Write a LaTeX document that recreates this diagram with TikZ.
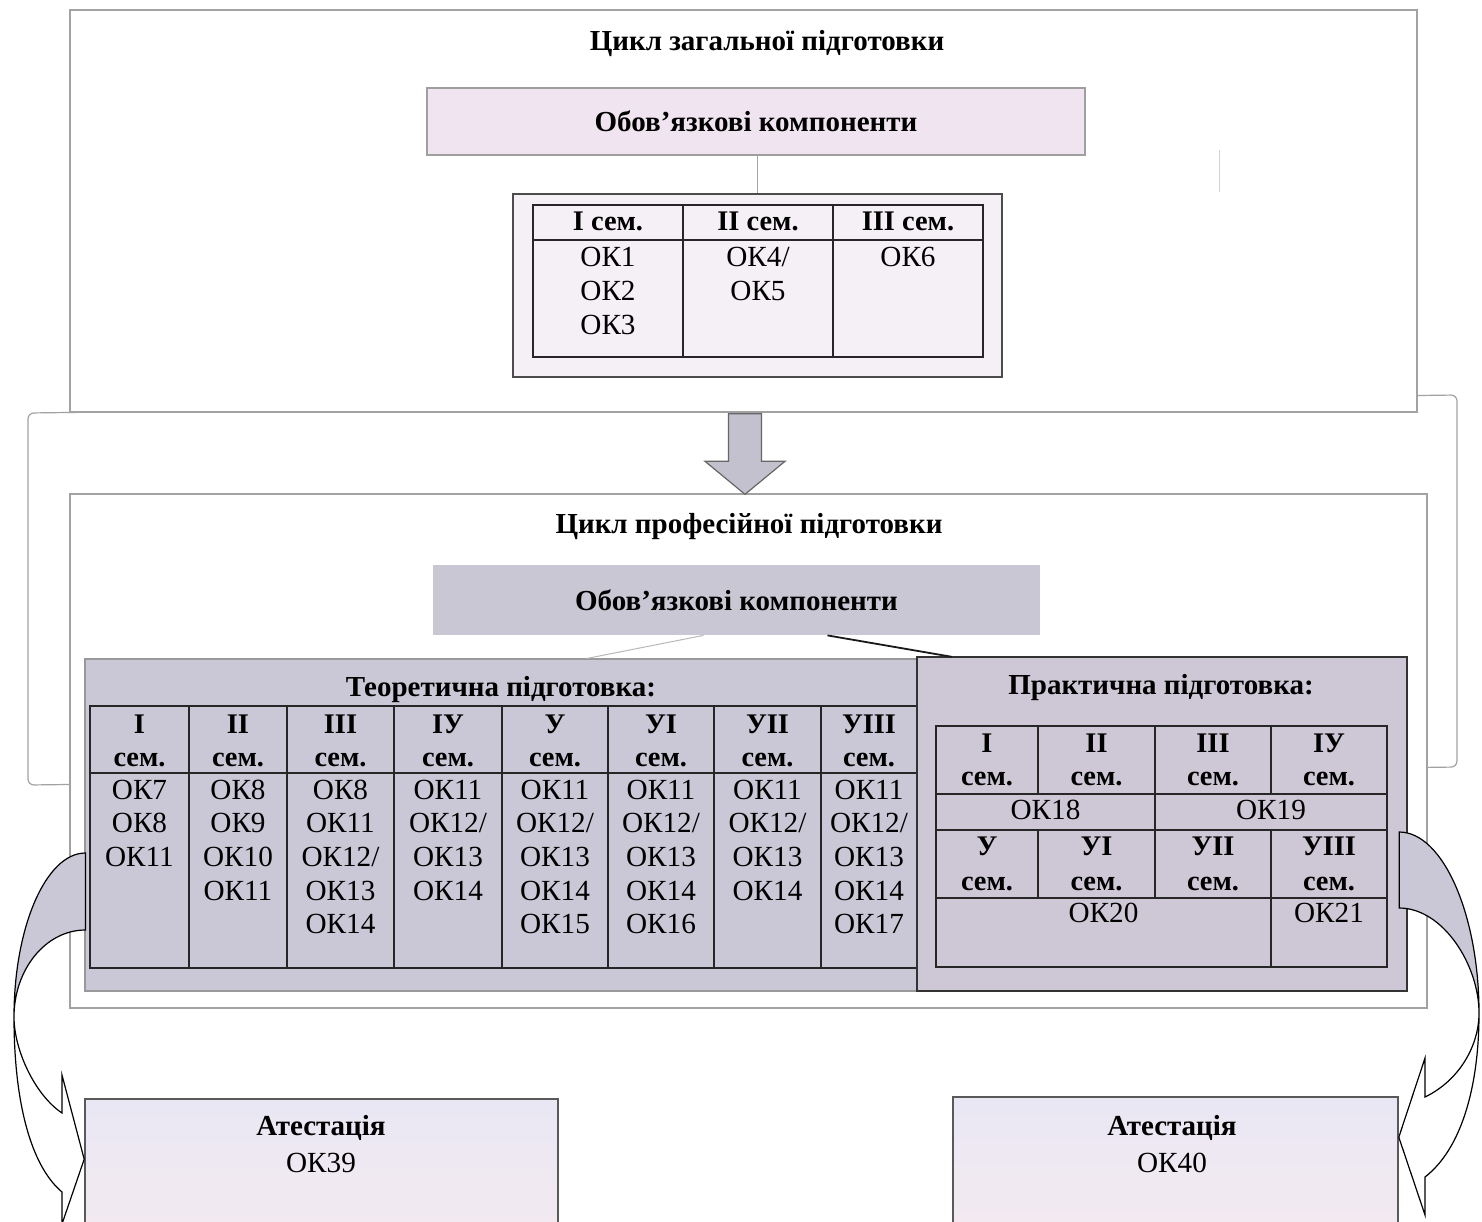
\documentclass[tikz,border=0pt]{standalone}
\usepackage{fontspec}
\setmainfont{Liberation Serif}
\usetikzlibrary{calc}
\definecolor{framegray}{HTML}{A2A2A2}
\definecolor{lav}{HTML}{CAC8D6}
\definecolor{lavp}{HTML}{CEC8D6}
\definecolor{obgray}{HTML}{C9C7D4}
\definecolor{pinkl}{HTML}{EFE4EF}
\definecolor{tabfill}{HTML}{F5EFF6}
\definecolor{arrowfill}{HTML}{C3C1CD}
\definecolor{attA}{HTML}{E9E7F4}
\definecolor{attB}{HTML}{F4EAF0}
\begin{document}
\begin{tikzpicture}[x=0.5pt,y=-0.5pt,
  frm/.style={draw=framegray, line width=0.7pt, fill=white},
  ttl/.style={font=\fontsize{14.5}{17}\selectfont\bfseries, inner sep=0pt},
  hd/.style={font=\fontsize{14.2}{17}\selectfont\bfseries, inner sep=0pt, text height=0.7em, text depth=0pt},
  dat/.style={font=\fontsize{14.6}{17}\selectfont, inner sep=0pt, text height=0.7em, text depth=0pt},
  tline/.style={draw=black!85, line width=0.9pt},
  carrow/.style={draw=black, line width=0.6pt, line join=miter},
  attbox/.style={draw=black!65, line width=0.8pt, top color=attA, bottom color=attB, middle color=attB!60!attA},
]
\useasboundingbox (0,0) rectangle (1482,1221);
\clip (0,0) rectangle (1482,1221);
\fill[white] (0,0) rectangle (1482,1221);

% background frame behind the two cycles
\draw[framegray, line width=0.6pt, rounded corners=3pt] (28,785) -- (28,413) -- (1457,395) -- (1457,767) -- cycle;

% ---- general cycle ----
\node[frm, minimum width=673.5pt, minimum height=201pt] (box1) at (743.5,211) {};
\node[ttl] (t1) at (767,44) {Цикл загальної підготовки};
\node[ttl, draw=gray!75, line width=0.8pt, fill=pinkl, minimum width=329pt, minimum height=33.5pt] (ob1) at (756,121.5) {Обов’язкові компоненти};
\node[draw=black!70, line width=0.8pt, fill=tabfill, minimum width=244.5pt, minimum height=91.5pt] (tab1box) at (757.5,285.5) {};
\draw[gray!70, line width=0.5pt] (tab1box.north |- ob1.south) -- (tab1box.north);
\draw[tline] (533,205) rectangle (983,357);
\draw[tline] (533,240) -- (983,240) (683,205) -- (683,357) (833,205) -- (833,357);
\node[hd] (g1) at (608,223) {I сем.};
\node[hd] (g2) at (758,223) {II сем.};
\node[hd] (g3) at (908,223) {III сем.};
\foreach \c/\x/\l in {1/608/{ОК1,ОК2,ОК3}, 2/758/{ОК4/,ОК5}, 3/908/{ОК6}}
  {\foreach \t [count=\r] in \l {\node[dat] (gd\c-\r) at (\x,{259+34*(\r-1)}) {\t};}}
\draw[gray!35, line width=0.4pt] (1219,150) -- (1219,192);

% ---- professional cycle ----
\node[frm, minimum width=678.5pt, minimum height=257pt] (box3) at (748.5,751) {};

% block arrow between the cycles
\coordinate (atop) at ($(box1.south)+(1.5,1)$);
\coordinate (abot) at ($(box3.north)+(-3.5,1)$);
\draw[fill=arrowfill, draw=black!60, line width=0.6pt, line join=miter]
  ($(atop)+(-16.5,0)$) -- ($(abot)+(-16.5,-33)$) -- ($(abot)+(-40,-33)$) -- (abot)
  -- ($(abot)+(40,-33)$) -- ($(abot)+(16.5,-33)$) -- ($(atop)+(16.5,0)$) -- cycle;

\node[ttl] (t2) at (749,527) {Цикл професійної підготовки};
\node[ttl, fill=obgray, minimum width=303.5pt, minimum height=35pt] (ob2) at (736.5,600) {Обов’язкові компоненти};

% theoretical
\node[fill=lav, draw=gray!80, line width=0.6pt, minimum width=416pt, minimum height=166pt] (theory) at (501,825) {};
\node[ttl] (tt) at (501,690) {Теоретична підготовка:};
\draw[tline] (90,706) rectangle (917,968);
\draw[tline] (90,773) -- (917,773);
\foreach \xx in {189,287,394,502,608,714,821} {\draw[tline] (\xx,706) -- (\xx,968);}
\foreach \c/\x/\n in {1/139.5/I, 2/238/II, 3/340.5/III, 4/448/IУ, 5/555/У, 6/661/УI, 7/767.5/УII, 8/869/УIII}
  {\node[hd] (th\c) at (\x,726) {\n}; \node[hd] (ts\c) at (\x,759) {сем.};}
\foreach \c/\x/\l in {1/139.5/{ОК7,ОК8,ОК11}, 2/238/{ОК8,ОК9,ОК10,ОК11}, 3/340.5/{ОК8,ОК11,ОК12/,ОК13,ОК14}, 4/448/{ОК11,ОК12/,ОК13,ОК14}, 5/555/{ОК11,ОК12/,ОК13,ОК14,ОК15}, 6/661/{ОК11,ОК12/,ОК13,ОК14,ОК16}, 7/767.5/{ОК11,ОК12/,ОК13,ОК14}, 8/869/{ОК11,ОК12/,ОК13,ОК14,ОК17}}
  {\foreach \t [count=\r] in \l {\node[dat] (td\c-\r) at (\x,{792+33.7*(\r-1)}) {\t};}}

% practical
\node[fill=lavp, draw=black!80, line width=1.2pt, minimum width=245pt, minimum height=167pt] (prac) at (1162,824) {};
\node[ttl] (pt) at (1161,688) {Практична підготовка:};
\draw[tline] (936,726) rectangle (1387,967);
\draw[tline] (936,794) -- (1387,794) (936,830) -- (1387,830) (936,898) -- (1387,898);
\draw[tline] (1038,726) -- (1038,794) (1038,830) -- (1038,898) (1155,726) -- (1155,898)
  (1271,726) -- (1271,794) (1271,830) -- (1271,967);
\foreach \c/\x/\n/\m in {1/987/I/У, 2/1096.5/II/УI, 3/1213/III/УII, 4/1329/IУ/УIII}
  {\node[hd] (ph\c) at (\x,745) {\n}; \node[hd] (ps\c) at (\x,778) {сем.};
   \node[hd] (pq\c) at (\x,848) {\m}; \node[hd] (pr\c) at (\x,883) {сем.};}
\node[dat] (p18) at (1045.5,812) {ОК18};
\node[dat] (p19) at (1271,812) {ОК19};
\node[dat] (p20) at (1103.5,915) {ОК20};
\node[dat] (p21) at (1329,915) {ОК21};

% links from the component box
\draw[gray!55, line width=0.5pt] ($(ob2.south)+(-33,0)$) -- ($(theory.north)+(86,0)$);
\draw[black!90, line width=0.9pt] ($(ob2.south)+(91,0)$) -- ($(prac.north west)+(36,1)$);

% ---- attestation ----
\node[attbox, minimum width=236.5pt, minimum height=81pt] (att1) at (321.5,1180) {};
\node[attbox, minimum width=222.5pt, minimum height=81pt] (att2) at (1175.5,1178) {};
\node[ttl] (a1t) at (321,1128) {Атестація};
\node[dat] (a1d) at (321,1165) {ОК39};
\node[ttl] (a2t) at (1172,1128) {Атестація};
\node[dat] (a2d) at (1172,1165) {ОК40};

% ---- curved arrows ----
\coordinate (Ls1) at ($(theory.west)+(1,28)$);
\coordinate (Ls2) at ($(theory.west)+(1,105)$);
\coordinate (Lt) at ($(att1.north west)+(0,61)$);
\draw[carrow, fill=lav] (Ls1) .. controls (46,853) and (14,927) .. (14,1017)
  .. controls (14,969) and (46,930) .. (Ls2) -- cycle;
\draw[carrow, fill=white] (14,1017) .. controls (14,1050) and (35,1095) .. (62,1113)
  -- (62,1075) -- (Lt) -- (62,1224) -- (62,1192) .. controls (30,1165) and (14,1100) .. (14,1017) -- cycle;

\coordinate (Rs1) at ($(prac.east)+(-9,8)$);
\coordinate (Rs2) at ($(prac.east)+(-9,84)$);
\coordinate (Rt) at ($(att2.north east)+(0,41)$);
\draw[carrow, fill=lav] (Rs1) .. controls (1443,832) and (1479,915) .. (1479,1013)
  .. controls (1479,965) and (1443,908) .. (Rs2) -- cycle;
\draw[carrow, fill=white] (1479,1013) .. controls (1479,1045) and (1460,1080) .. (1425,1097)
  -- (1425,1058) -- (Rt) -- (1425,1215) -- (1425,1177) .. controls (1460,1150) and (1479,1090) .. (1479,1013) -- cycle;
\end{tikzpicture}
\end{document}
